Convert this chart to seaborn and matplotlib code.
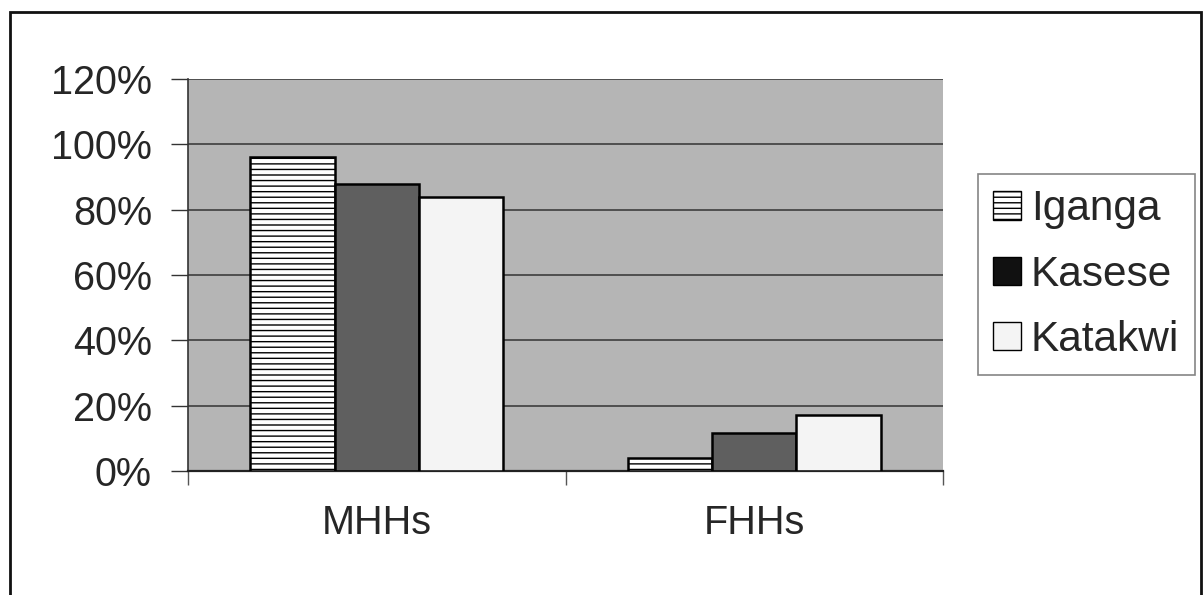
import matplotlib
matplotlib.use("Agg")
import matplotlib.pyplot as plt
import matplotlib.patches as mpatches
import seaborn as sns
import pandas as pd

categories = ["MHHs", "FHHs"]
districts = ["Iganga", "Kasese", "Katakwi"]
iganga = [96, 4]
kasese = [88, 11.5]
katakwi = [84, 17]
yticks = [0, 20, 40, 60, 80, 100, 120]
ytick_labels = ["0%", "20%", "40%", "60%", "80%", "100%", "120%"]

rows = []
for name, vals in zip(districts, [iganga, kasese, katakwi]):
    for c, v in zip(categories, vals):
        rows.append({"Category": c, "District": name, "Value": v})
df = pd.DataFrame(rows)

sns.set_theme(style="white")
plt.rcParams['font.family'] = ['Liberation Sans', 'DejaVu Sans']
plt.rcParams['hatch.linewidth'] = 1.0

fig = plt.figure(figsize=(12.04, 5.95), dpi=100)
ax = fig.add_axes([188/1204, 1-471/595, (943-188)/1204, (471-79)/595])
ax.set_facecolor('#b5b5b5')

palette = {"Iganga": "#ffffff", "Kasese": "#5f5f5f", "Katakwi": "#f4f4f4"}
sns.barplot(data=df, x="Category", y="Value", hue="District", order=categories,
            hue_order=districts, palette=palette, width=0.67, edgecolor="black",
            linewidth=1.8, saturation=1, ax=ax, legend=False, zorder=3)

# hatch Iganga bars
n = len(categories)
for i, bar in enumerate(ax.patches[:n]):
    bar.set_hatch('---')

ax.set_ylim(0, 120)
ax.set_xlim(-0.5, 1.5)
ax.set_yticks(yticks)
ax.set_yticklabels(ytick_labels, fontsize=28.5)
ax.tick_params(axis='x', labelsize=28.5, length=0, pad=24)
ax.tick_params(axis='y', length=12, width=1, color='#333333', left=True, direction='out', pad=14)
ax.yaxis.grid(True, color='#333333', linewidth=1.1, zorder=1)
ax.set_axisbelow(True)
ax.set_xlabel("")
ax.set_ylabel("")
# x boundary ticks
ax.set_xticks([-0.5, 0.5, 1.5], minor=True)
ax.tick_params(axis='x', which='minor', length=10, width=1, color='#555555', bottom=True)
for s in ["top", "right"]:
    ax.spines[s].set_visible(False)
ax.spines["left"].set_color('#333333')
ax.spines["left"].set_linewidth(1.2)
ax.spines["bottom"].set_color('#222222')
ax.spines["bottom"].set_linewidth(1.6)

legend_colors = {"Iganga": "#ffffff", "Kasese": "#111111", "Katakwi": "#f4f4f4"}
handles = [mpatches.Patch(facecolor=legend_colors[d], edgecolor='black',
                          hatch=('---' if d == "Iganga" else None), label=d)
           for d in districts]
leg = fig.legend(handles=handles, loc='upper left', bbox_to_anchor=(978/1204, 1-174/595),
                 fontsize=30.5, frameon=True, fancybox=False, edgecolor='#666666',
                 handlelength=0.66, handleheight=0.66, handletextpad=0.23,
                 borderpad=0.36, labelspacing=0.6, borderaxespad=0)
leg.get_frame().set_linewidth(1.2)

border = mpatches.Rectangle((10/1204, -0.05), (1201-10)/1204, (1-12/595) + 0.05,
                            transform=fig.transFigure, fill=False, edgecolor='#111111',
                            linewidth=2, clip_on=False)
fig.patches.append(border)

fig.savefig("out.png", dpi=100, facecolor='white')
